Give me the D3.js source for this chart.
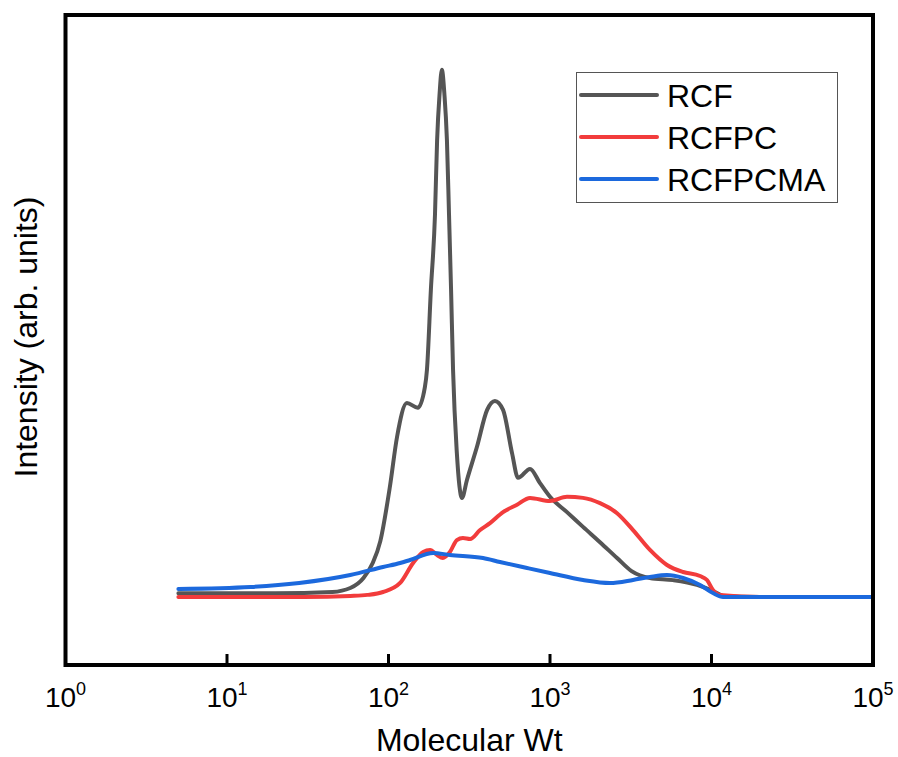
<!DOCTYPE html>
<html>
<head>
<meta charset="utf-8">
<script src="https://cdn.jsdelivr.net/npm/d3@7"></script>
<style>
  body { margin: 0; background: #fff; }
  text { font-family: "Liberation Sans", Arial, sans-serif; fill: #000; }
</style>
</head>
<body>
<svg id="chart"></svg>
<script>
// [molecular weight, intensity (arb.)]
const rcf = [
  [5, 0.7], [20, 0.7], [45, 0.95], [58, 1.7], [70, 3.6], [80, 6.5], [89, 10.6],
  [102, 20.9], [113, 30.4], [130, 36.8], [152, 35.9], [168, 39.8], [173, 43.1],
  [183, 58.3], [194, 72.5], [200, 86.7], [207, 95.3], [214, 100], [222, 95.3],
  [230, 86.7], [237, 72.5], [244, 58.3], [251, 43.1], [265, 27.3], [285, 18.8],
  [306, 22.2], [353, 28.5], [408, 35.5], [456, 37.2], [512, 35.5], [582, 27.3],
  [634, 22.6], [752, 24.3], [867, 21.6], [1000, 19.0], [1274, 16.1], [1601, 13.3],
  [2040, 10.4], [2601, 7.4], [3200, 4.9], [4160, 3.6], [5776, 3.2], [8134, 2.3],
  [10810, 0.76], [11790, 0.19], [20000, 0], [100000, 0]
];
const rcfpc = [
  [5, 0], [30, 0], [58, 0.2], [74, 0.4], [92.5, 0.95], [118, 2.66], [142, 6.45],
  [164, 8.54], [181, 8.92], [200, 7.97], [217, 7.4], [240, 8.54], [265, 10.8],
  [289, 11.2], [320, 11.0], [369, 12.7], [425, 14.0], [512, 16.1], [625, 17.5],
  [752, 18.8], [1000, 18.2], [1274, 19.0], [1601, 18.8], [2040, 17.8], [2601, 15.9],
  [3267, 12.7], [4160, 8.92], [5300, 6.07], [6668, 4.74], [8492, 3.98], [9380, 3.23],
  [10210, 1.33], [11290, 0.38], [20000, 0], [100000, 0]
];
const rcfpcma = [
  [5, 1.52], [14, 1.9], [28, 2.66], [58, 4.17], [92.5, 5.69], [118, 6.45],
  [136, 7.02], [189, 8.35], [240, 7.97], [385, 7.4], [490, 6.64], [721, 5.5],
  [1000, 4.55], [1601, 3.23], [2350, 2.66], [3267, 3.23], [4160, 3.8],
  [5300, 4.17], [6668, 3.61], [8492, 2.28], [10210, 0.76], [11790, 0], [100000, 0]
];

const seriesNames = ["RCF", "RCFPC", "RCFPCMA"];
const seriesColors = ["#555555", "#f23c3c", "#1c69dd"];
const xTicks = [1, 10, 100, 1000, 10000, 100000];

const width = 898, height = 757;
const margin = { left: 65.5, right: 25, top: 15, bottom: 92 };

const svg = d3.select("#chart").attr("width", width).attr("height", height);

const x = d3.scaleLog()
  .domain([1, 1e5])
  .range([margin.left, width - margin.right]);

const y = d3.scaleLinear()
  .domain([-12.9, 110.4])
  .range([height - margin.bottom, margin.top]);

const line = d3.line()
  .x(d => x(d[0]))
  .y(d => y(d[1]))
  .curve(d3.curveMonotoneX);

// curves
[rcf, rcfpc, rcfpcma].forEach((s, i) => {
  svg.append("path")
    .datum(s)
    .attr("fill", "none")
    .attr("stroke", seriesColors[i])
    .attr("stroke-width", 4)
    .attr("stroke-linejoin", "round")
    .attr("stroke-linecap", "round")
    .attr("d", line);
});

// x ticks (inward) and labels
const x0 = x.range()[0], x1 = x.range()[1];
const yb = y.range()[0], yt = y.range()[1];

svg.append("g")
  .selectAll("line")
  .data(xTicks.slice(1, -1))
  .join("line")
  .attr("x1", d => x(d))
  .attr("x2", d => x(d))
  .attr("y1", yb)
  .attr("y2", yb - 11)
  .attr("stroke", "#000")
  .attr("stroke-width", 3);

const lbl = svg.append("g")
  .selectAll("text")
  .data(xTicks)
  .join("text")
  .attr("x", d => x(d))
  .attr("y", 707)
  .attr("text-anchor", "middle")
  .style("font-size", "28px");
lbl.append("tspan").text("10");
lbl.append("tspan")
  .attr("dy", -12)
  .style("font-size", "18px")
  .text(d => Math.round(Math.log10(d)));

// frame
svg.append("rect")
  .attr("x", x0)
  .attr("y", yt)
  .attr("width", x1 - x0)
  .attr("height", yb - yt)
  .attr("fill", "none")
  .attr("stroke", "#000")
  .attr("stroke-width", 4);

// axis titles
svg.append("text")
  .attr("x", (x0 + x1) / 2)
  .attr("y", 751)
  .attr("text-anchor", "middle")
  .style("font-size", "32px")
  .text("Molecular Wt");

svg.append("text")
  .attr("transform", "translate(37," + 337 + ") rotate(-90)")
  .attr("text-anchor", "middle")
  .style("font-size", "32px")
  .text("Intensity (arb. units)");

// legend
const lg = svg.append("g");
lg.append("rect")
  .attr("x", 576.5)
  .attr("y", 72.5)
  .attr("width", 261)
  .attr("height", 130)
  .attr("fill", "#fff")
  .attr("stroke", "#555")
  .attr("stroke-width", 1);

const rows = lg.selectAll("g.row")
  .data(seriesNames)
  .join("g")
  .attr("class", "row")
  .attr("transform", (d, i) => "translate(0," + [95, 137, 179][i] + ")");

rows.append("line")
  .attr("x1", 581)
  .attr("x2", 657)
  .attr("stroke", (d, i) => seriesColors[i])
  .attr("stroke-width", 4)
  .attr("stroke-linecap", "round");

rows.append("text")
  .attr("x", 667)
  .attr("y", 11.5)
  .style("font-size", "32px")
  .text(d => d);
</script>
</body>
</html>
